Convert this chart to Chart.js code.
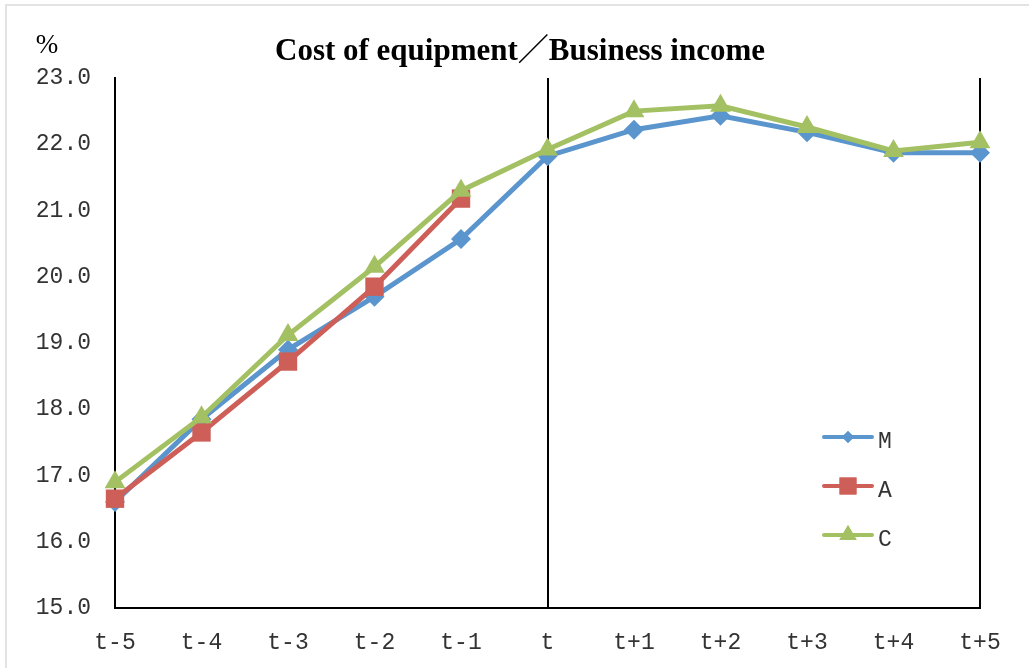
<!DOCTYPE html>
<html>
<head>
<meta charset="utf-8">
<script src="https://cdn.jsdelivr.net/npm/chart.js@4/dist/chart.umd.min.js"></script>
<style>
  html, body { margin: 0; padding: 0; background: #fff; }
  #wrap { position: relative; width: 1029px; height: 668px; overflow: hidden; }
  #frame { position: absolute; left: 5px; top: 4px; width: 1040px; height: 700px; border: 2px solid #e3e3e3; box-sizing: border-box; pointer-events: none; }
  canvas { position: absolute; left: 0; top: 0; }
</style>
</head>
<body>
<div id="wrap">
  <canvas id="chart" width="1029" height="668"></canvas>
  <div id="frame"></div>
</div>
<script>
/* global Chart */
const LABELS = ["t-5", "t-4", "t-3", "t-2", "t-1", "t", "t+1", "t+2", "t+3", "t+4", "t+5"];
const SERIES_M = [16.6, 17.85, 18.9, 19.7, 20.57, 21.82, 22.22, 22.43, 22.18, 21.87, 21.87];
const SERIES_A = [16.65, 17.65, 18.72, 19.85, 21.18, null, null, null, null, null, null];
const SERIES_C = [16.9, 17.88, 19.12, 20.15, 21.3, 21.92, 22.5, 22.58, 22.26, 21.9, 22.03];
const TITLE = "Cost of equipment／Business income";
const UNIT = "%";

const COLORS = { M: "#5b95cd", A: "#cd5f58", C: "#a3c062" };
const MONO = "'Liberation Mono', 'DejaVu Sans Mono', monospace";
const SERIF = "'Liberation Serif', 'Noto Sans CJK JP', serif";

function series(label, data, style, radius, order) {
  return {
    label,
    data,
    borderColor: COLORS[label],
    backgroundColor: COLORS[label],
    borderWidth: 5,
    pointStyle: style,
    pointRadius: radius,
    pointHoverRadius: radius,
    pointBorderWidth: 0,
    spanGaps: false,
    tension: 0,
    order,
    legendRadius: { rectRot: 6, rect: 12, triangle: 10 }[style],
  };
}

// Title, unit label and the legend inside the plot area.
const decorations = {
  id: "decorations",
  afterDraw(chart) {
    const { ctx } = chart;
    ctx.save();
    ctx.fillStyle = "#000";
    ctx.textAlign = "center";
    ctx.textBaseline = "middle";
    ctx.font = `bold 31px ${SERIF}`;
    ctx.fillText(TITLE, 520, 52);
    ctx.font = `27px ${SERIF}`;
    ctx.fillText(UNIT, 47, 46);

    chart.data.datasets.forEach((ds, i) => {
      const y = 437 + i * 49;
      ctx.strokeStyle = ds.borderColor;
      ctx.lineWidth = 4;
      ctx.lineCap = "round";
      ctx.beginPath();
      ctx.moveTo(824, y);
      ctx.lineTo(872, y);
      ctx.stroke();
      ctx.fillStyle = ds.backgroundColor;
      Chart.helpers.drawPoint(ctx, { pointStyle: ds.pointStyle, radius: ds.legendRadius, borderWidth: 0 }, 848, y);
      ctx.fill();
      ctx.fillStyle = "#333";
      ctx.textAlign = "left";
      ctx.font = `23px ${MONO}`;
      ctx.fillText(ds.label, 878, y + 5);
    });
    ctx.restore();
  },
};

new Chart(document.getElementById("chart"), {
  type: "line",
  data: {
    labels: LABELS,
    datasets: [
      series("M", SERIES_M, "rectRot", 10, 3),
      series("A", SERIES_A, "rect", 13, 2),
      series("C", SERIES_C, "triangle", 12, 1),
    ],
  },
  options: {
    responsive: false,
    animation: false,
    events: [],
    layout: { padding: { top: 78, right: 49, left: 0, bottom: 0 } },
    plugins: { legend: { display: false }, title: { display: false }, tooltip: { enabled: false } },
    scales: {
      x: {
        offset: false,
        afterFit: (s) => { s.height = 60; },
        grid: {
          drawTicks: false,
          color: (c) => (c.index === 5 || c.index === 10 ? "#000" : "transparent"),
          lineWidth: 2,
        },
        border: { display: true, color: "#000", width: 2 },
        ticks: {
          autoSkip: false,
          maxRotation: 0,
          padding: 21,
          color: "#333",
          font: { family: MONO, size: 23 },
        },
      },
      y: {
        min: 15,
        max: 23,
        afterFit: (s) => { s.width = 115; },
        grid: { display: false },
        border: { display: true, color: "#000", width: 2 },
        ticks: {
          stepSize: 1,
          padding: 16,
          color: "#333",
          font: { family: MONO, size: 23 },
          callback: (v) => v.toFixed(1),
        },
      },
    },
  },
  plugins: [decorations],
});
</script>
</body>
</html>
